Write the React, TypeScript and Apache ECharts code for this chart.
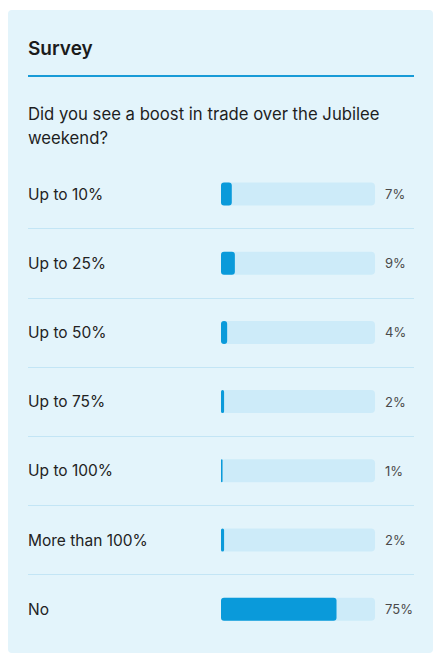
import React, { useEffect, useRef } from "react";
import * as echarts from "echarts";

const categories = ["Up to 10%", "Up to 25%", "Up to 50%", "Up to 75%", "Up to 100%", "More than 100%", "No"];
const values = [7, 9, 4, 2, 1, 2, 75];
const trackValues = [100, 100, 100, 100, 100, 100, 100];
const titleText = "Survey";
const questionText = "Did you see a boost in trade over the Jubilee\nweekend?";

const FONT = "Inter, 'Noto Sans', sans-serif";

export default function App() {
  const ref = useRef<HTMLDivElement>(null);
  useEffect(() => {
    if (!ref.current) return;
    const chart = echarts.init(ref.current, undefined, { renderer: "svg" });
    const sepColor = "#c3e5f5";
    chart.setOption({
      animation: false,
      textStyle: { fontFamily: FONT },
      graphic: [
        {
          type: "rect",
          z: -10,
          shape: { x: 0, y: 2, width: 425, height: 643, r: 4 },
          style: { fill: "#e3f4fb" },
        },
        {
          type: "text",
          x: 20,
          y: 40,
          style: {
            text: titleText,
            fill: "#1b1b1b",
            font: `600 19px ${FONT}`,
            verticalAlign: "middle",
          },
        },
        {
          type: "line",
          shape: { x1: 20, y1: 68, x2: 406, y2: 68 },
          style: { stroke: "#189bd7", lineWidth: 2 },
        },
        {
          type: "text",
          x: 20,
          y: 94,
          style: {
            text: questionText,
            fill: "#1e1e1e",
            font: `400 16.7px ${FONT}`,
            lineHeight: 24,
            verticalAlign: "top",
          },
        },
      ],
      grid: { left: 20, top: 151.4, width: 386, height: 484.4 },
      xAxis: {
        type: "value",
        min: -125.3,
        max: 125.3,
        show: false,
      },
      yAxis: {
        type: "category",
        inverse: true,
        data: categories,
        axisLine: { show: false },
        axisTick: { show: false },
        axisLabel: {
          inside: true,
          margin: 0,
          color: "#222",
          fontSize: 15.5,
          fontFamily: FONT,
        },
        splitLine: {
          show: true,
          lineStyle: {
            width: 1,
            color: ["transparent", sepColor, sepColor, sepColor, sepColor, sepColor, sepColor, "transparent"],
          },
        },
        z: 5,
      },
      series: [
        {
          type: "bar",
          data: trackValues,
          barWidth: 23,
          barGap: "-100%",
          itemStyle: { color: "#cdebf9", borderRadius: 4 },
          silent: true,
          z: 2,
          label: {
            show: true,
            position: "right",
            distance: 10,
            color: "#4a4a4a",
            fontSize: 13,
            fontFamily: FONT,
            formatter: (p: any) => `${values[p.dataIndex]}%`,
          },
        },
        {
          type: "bar",
          data: values,
          barWidth: 23,
          barGap: "-100%",
          itemStyle: { color: "#0a9ada", borderRadius: 3 },
          z: 3,
        },
      ],
    });
    return () => chart.dispose();
  }, []);
  return <div ref={ref} style={{ width: 427, height: 646 }} />;
}
